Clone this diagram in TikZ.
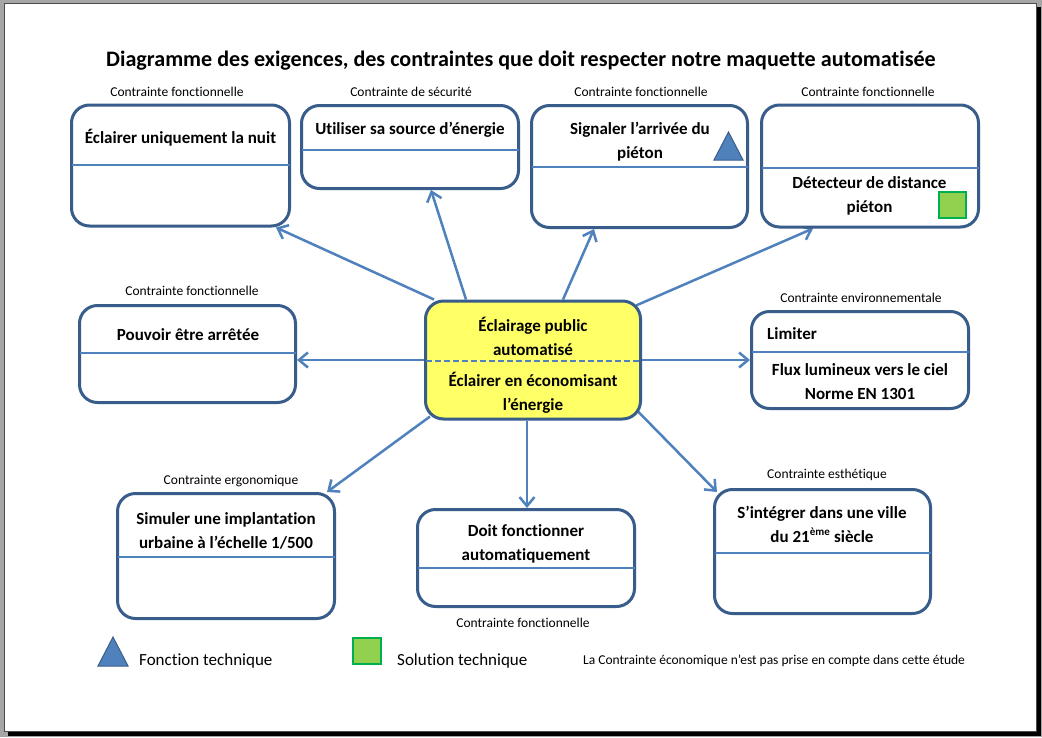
\documentclass[tikz,border=0pt]{standalone}
\usepackage{fontspec}
\setmainfont{Carlito}[Ligatures=NoCommon]
\usetikzlibrary{arrows.meta,backgrounds,calc}
\definecolor{boxline}{HTML}{385D8A}
\definecolor{accent}{HTML}{4F81BD}
\definecolor{ctrfill}{HTML}{FFFF66}
\definecolor{solgreen}{HTML}{92D050}
\definecolor{solborder}{HTML}{00B050}
\definecolor{pagegrey}{HTML}{A6A6A6}
\begin{document}
\begin{tikzpicture}[x=1pt,y=-1pt,
  reqbox/.style={draw=boxline, line width=3pt, rounded corners=18pt, fill=white, inner sep=0pt},
  ctrbox/.style={reqbox, fill=ctrfill},
  divider/.style={draw=accent, line width=2pt, shorten <=1.5pt, shorten >=1.5pt},
  arr/.style={draw=accent, line width=2.5pt, -{Straight Barb[length=9pt,width=15pt]}},
  boxtext/.style={font=\fontsize{17}{24}\selectfont\bfseries, align=center, inner sep=0pt, yshift=-1.5pt},
  cattext/.style={font=\fontsize{13.5}{16}\selectfont, inner sep=0pt, yshift=-0.8pt},
  legtext/.style={font=\fontsize{17}{20}\selectfont, inner sep=0pt, anchor=west},
  ftech/.style={fill=accent, draw=boxline, line width=1pt},
  stech/.style={fill=solgreen, draw=solborder, line width=2pt},
]
\useasboundingbox (0,0) rectangle (1042,737);

% title
\node[font=\fontsize{22.1}{26}\selectfont\bfseries, inner sep=0pt] (title) at (521,61) {Diagramme des exigences, des contraintes que doit respecter notre maquette automatisée};

% boxes
\node[reqbox, minimum width=218pt, minimum height=121pt] (A) at (180.5,165.5) {};
\node[reqbox, minimum width=217pt, minimum height=83pt] (B) at (410,147) {};
\node[reqbox, minimum width=216pt, minimum height=122pt] (C) at (639.5,166.5) {};
\node[reqbox, minimum width=217pt, minimum height=122pt] (D) at (870,166) {};
\node[reqbox, minimum width=216pt, minimum height=97pt] (E) at (187.5,354) {};
\node[ctrbox, minimum width=215pt, minimum height=118pt] (ctr) at (533,360) {};
\node[reqbox, minimum width=217pt, minimum height=97pt] (F) at (860,360) {};
\node[reqbox, minimum width=217pt, minimum height=125pt] (G) at (226,556) {};
\node[reqbox, minimum width=217pt, minimum height=97pt] (H) at (526,558) {};
\node[reqbox, minimum width=216pt, minimum height=124pt] (I) at (822.5,551.5) {};

% dividers
\draw[divider] (A.west |- 0,165) -- (A.east |- 0,165);
\draw[divider] (B.west |- 0,150) -- (B.east |- 0,150);
\draw[divider] (C.west |- 0,167) -- (C.east |- 0,167);
\draw[divider] (D.west |- 0,168) -- (D.east |- 0,168);
\draw[divider] (E.west |- 0,353) -- (E.east |- 0,353);
\draw[divider, dashed, dash pattern=on 6pt off 3pt] (ctr.west |- 0,361) -- (ctr.east |- 0,361);
\draw[divider] (F.west |- 0,352) -- (F.east |- 0,352);
\draw[divider] (G.west |- 0,557) -- (G.east |- 0,557);
\draw[divider] (H.west |- 0,568) -- (H.east |- 0,568);
\draw[divider] (I.west |- 0,553) -- (I.east |- 0,553);

% box texts
\node[boxtext] (At) at (180.5,136) {Éclairer uniquement la nuit};
\node[boxtext] (Bt) at (410,128) {Utiliser sa source d’énergie};
\node[boxtext] (Ct) at (640,140) {Signaler l’arrivée du\\piéton};
\node[boxtext] (Dt) at (869.5,194.5) {Détecteur de distance\\piéton};
\node[boxtext] (Et) at (188,333) {Pouvoir être arrêtée};
\node[boxtext] (ctrt1) at (533,335) {Éclairage public\\automatisé};
\node[boxtext] (ctrt2) at (533,391) {Éclairer en économisant\\l’énergie};
\node[boxtext, anchor=west] (Ft1) at (767,332) {Limiter};
\node[boxtext] (Ft2) at (860,380) {Flux lumineux vers le ciel\\Norme EN 1301};
\node[boxtext] (Gt) at (226,529) {Simuler une implantation\\urbaine à l’échelle 1/500};
\node[boxtext] (Ht) at (526,542) {Doit fonctionner\\automatiquement};
\node[boxtext] (It) at (822,522.5) {S’intégrer dans une ville\\du 21\textsuperscript{\fontsize{11}{12}\selectfont ème} siècle};

% category labels
\node[cattext] (Ac) at (177,91) {Contrainte fonctionnelle};
\node[cattext] (Bc) at (411,91) {Contrainte de sécurité};
\node[cattext] (Cc) at (641,91) {Contrainte fonctionnelle};
\node[cattext] (Dc) at (868,91) {Contrainte fonctionnelle};
\node[cattext] (Ec) at (192,290) {Contrainte fonctionnelle};
\node[cattext] (Fc) at (861,297) {Contrainte environnementale};
\node[cattext] (Gc) at (231,480) {Contrainte ergonomique};
\node[cattext] (Hc) at (523,622) {Contrainte fonctionnelle};
\node[cattext] (Ic) at (827,474) {Contrainte esthétique};

% markers in boxes
\draw[ftech] (714,160) -- (728.5,132) -- (743,160) -- cycle;
\draw[stech] (939,192) rectangle (966,218);

% legend
\draw[ftech] (98,666) -- (113,637) -- (128,666) -- cycle;
\node[legtext] (l1) at (139,661) {Fonction technique};
\draw[stech] (353,638) rectangle (381,664);
\node[legtext] (l2) at (397,661) {Solution technique};
\node[cattext, anchor=west] (note) at (583,660) {La Contrainte économique n’est pas prise en compte dans cette étude};

\begin{pgfonlayer}{background}
  \fill[pagegrey] (0,0) rectangle (1042,737);
  \fill[black] (8,7) rectangle (1040.5,735.5);
  \filldraw[fill=white, draw=black!70, line width=0.8pt] (4.5,3.5) rectangle (1036,731);
  % arrows
  \draw[arr] (ctr.north -| 434,0) -- (A.south -| 276,0);
  \draw[arr] (ctr.north -| 466,0) -- (B.south -| 431,0);
  \draw[arr] (ctr.north -| 563,0) -- (C.south -| 594,0);
  \draw[arr] ($(ctr.north east)+(-6,6)$) -- (D.south -| 813,0);
  \draw[arr] (ctr.west |- 0,360) -- (E.east |- 0,360);
  \draw[arr] (ctr.east |- 0,360) -- (F.west |- 0,360);
  \draw[arr] ($(ctr.south west)+(6,-4)$) -- (G.north -| 327,0);
  \draw[arr] (ctr.south -| 527,0) -- (H.north -| 527,0);
  \draw[arr] ($(ctr.south east)+(-4,-9)$) -- ($(I.north west)+(4,4)$);
\end{pgfonlayer}
\end{tikzpicture}
\end{document}
